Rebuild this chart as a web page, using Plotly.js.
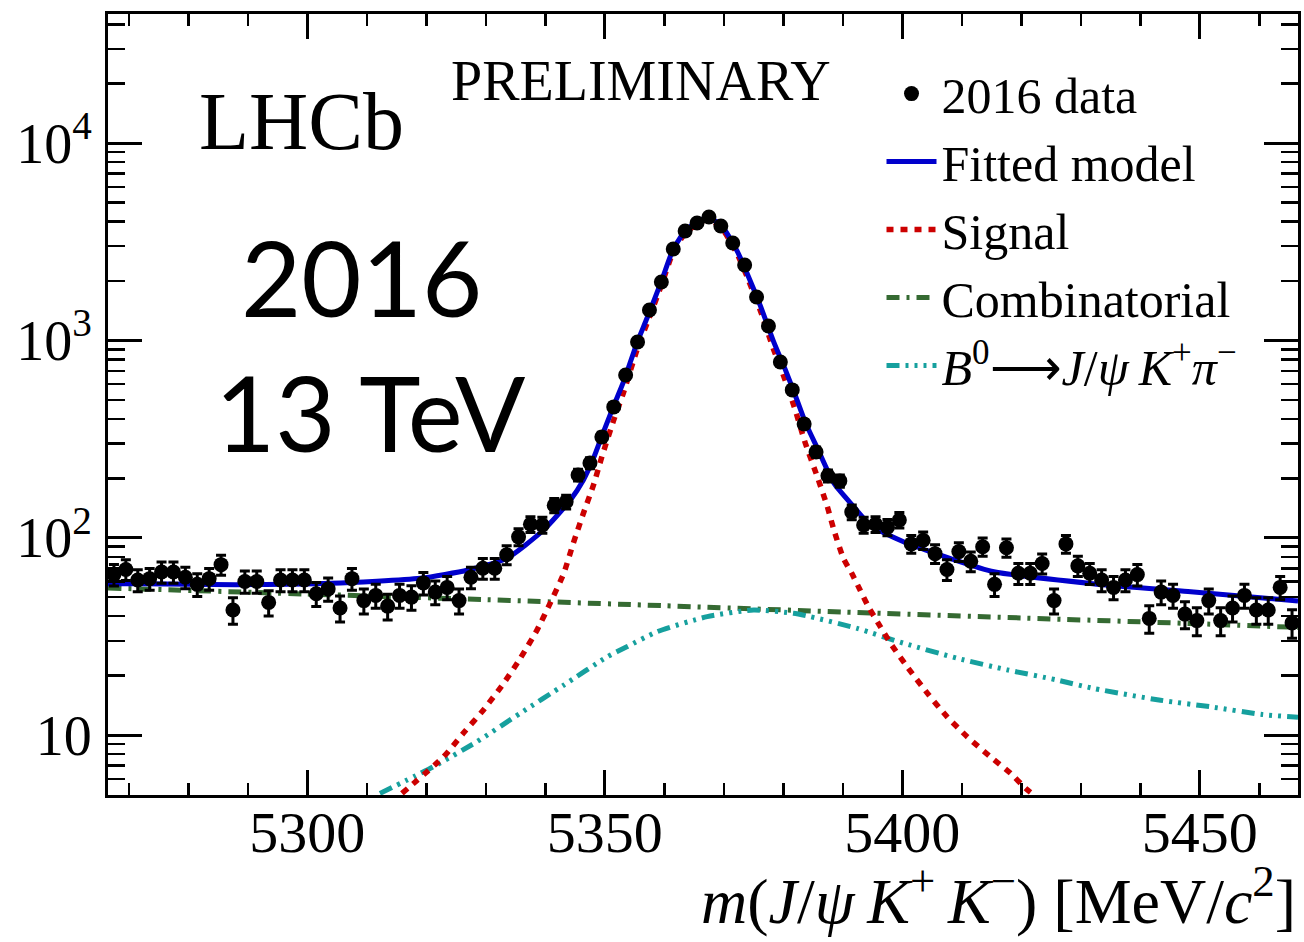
<!DOCTYPE html>
<html>
<head>
<meta charset="utf-8">
<script src="https://cdn.plot.ly/plotly-3.0.1.min.js"></script>
<style>html,body{margin:0;padding:0;background:#fff;}#chart{width:1304px;height:942px;}</style>
</head>
<body>
<div id="chart"></div>
<script>
// ---- data ----
const massBins = [5267.5,5269.5,5271.5,5273.5,5275.5,5277.5,5279.5,5281.5,5283.5,5285.5,
5287.5,5289.5,5291.5,5293.5,5295.5,5297.5,5299.5,5301.5,5303.5,5305.5,
5307.5,5309.5,5311.5,5313.5,5315.5,5317.5,5319.5,5321.5,5323.5,5325.5,
5327.5,5329.5,5331.5,5333.5,5335.5,5337.5,5339.5,5341.5,5343.5,5345.5,
5347.5,5349.5,5351.5,5353.5,5355.5,5357.5,5359.5,5361.5,5363.5,5365.5,
5367.5,5369.5,5371.5,5373.5,5375.5,5377.5,5379.5,5381.5,5383.5,5385.5,
5387.5,5389.5,5391.5,5393.5,5395.5,5397.5,5399.5,5401.5,5403.5,5405.5,
5407.5,5409.5,5411.5,5413.5,5415.5,5417.5,5419.5,5421.5,5423.5,5425.5,
5427.5,5429.5,5431.5,5433.5,5435.5,5437.5,5439.5,5441.5,5443.5,5445.5,
5447.5,5449.5,5451.5,5453.5,5455.5,5457.5,5459.5,5461.5,5463.5,5465.5];

const dataCounts = [65,69,61,62,67,67,63,58,62,73,
43,60,60,47,61,61,61,52,55,44,
62,48,51,45,51,50,59,53,56,48,
63,70,70,82,101,117,116,146,152,208,
239,324,460,668,981,1426,1977,2906,3584,3936,
4221,3800,3115,2411,1660,1183,777,561,377,272,
206,194,135,116,117,113,123,93,97,83,
69,85,76,90,58,89,66,66,74,48,
93,72,66,61,56,61,65,39,53,51,
41,38,48,38,44,51,43,43,56,37];

const dataErrors = [8.1,8.3,7.8,7.9,8.2,8.2,7.9,7.6,7.9,8.5,
6.6,7.7,7.7,6.9,7.8,7.8,7.8,7.2,7.4,6.6,
7.9,6.9,7.1,6.7,7.1,7.1,7.7,7.3,7.5,6.9,
7.9,8.4,8.4,9.1,10.0,10.8,10.8,12.1,12.3,14.4,
15.5,18.0,21.4,25.8,31.3,37.8,44.5,53.9,59.9,62.7,
65.0,61.6,55.8,49.1,40.7,34.4,27.9,23.7,19.4,16.5,
14.4,13.9,11.6,10.8,10.8,10.6,11.1,9.6,9.8,9.1,
8.3,9.2,8.7,9.5,7.6,9.4,8.1,8.1,8.6,6.9,
9.6,8.5,8.1,7.8,7.5,7.8,8.1,6.2,7.3,7.1,
6.4,6.2,6.9,6.2,6.6,7.1,6.6,6.6,7.5,6.1];

const fitMass = [5266.5,5272,5288,5304,5319,5327,5333.5,5339.7,5344.2,5346.4,5348.1,5349.5,5351.5,5353.1,5355.4,5357.1,5359.5,5361.5,5363.5,5365.5,5367.3,5369.5,5372.2,5373.9,5376.1,5378.4,5380.3,5382.0,5383.7,5385.7,5388.5,5391.8,5394.6,5400.2,5404.7,5408,5415.4,5432,5448,5466.5];
const fitVals = [58.5,58.5,57.8,58.7,62.3,68.6,78.6,109.4,155,196,253,327,467,612,969,1298,1990,2900,3580,3980,4190,3840,2850,2190,1510,980,715,527,384,285,189,144,116,95.4,84.9,78.6,67.2,58.5,53.3,47.8];

const sigMass = [5315.9,5322.9,5326.2,5329.6,5333.0,5335.8,5338.6,5340.8,5343.1,5344.7,5346.4,5348.1,5349.5,5351.5,5353.1,5355.4,5357.1,5359.5,5361.5,5363.5,5365.5,5367.3,5369.5,5372.2,5373.9,5376.1,5378.4,5380.3,5382.0,5383.7,5385.7,5387.4,5388.5,5390.1,5391.5,5392.9,5394.3,5396.3,5398.0,5400.8,5404.2,5407.5,5410.9,5414.8,5418.2,5420.7,5422];
const sigVals = [5.06,7.76,10.2,13.4,18.3,24.5,34.0,46.5,66.0,93.7,133,185,257,395,539,894,1221,1900,2810,3490,3890,4100,3750,2763,2103,1426,894,630,444,301,204,143.6,109.4,78.6,66,54.3,44.7,35.4,29.2,22.2,16.3,12.4,9.8,7.76,6.4,5.37,5.0];

const combMass = [5266.5,5300,5330,5360,5390,5420,5450,5466.5];
const combVals = [55.6,51.8,48.5,45.2,42.0,39.2,36.6,35.1];

const b0Mass = [5312.2,5319.0,5321.2,5328.5,5335.8,5343.1,5350.4,5353.7,5358.8,5367.2,5375.0,5381.7,5384.5,5392.4,5400.2,5409.2,5417.6,5426.0,5432.2,5443.4,5451.8,5460.5,5466.5];
const b0Vals = [5.06,6.39,6.91,9.25,12.9,17.9,24.9,28.0,33.4,39.8,43.0,41.4,39.8,34.7,29.2,24.5,21.4,19.0,17.2,15.0,13.9,12.7,12.3];

const legendNames = ['2016 data','Fitted model','Signal','Combinatorial',
  '<i>B</i><sup>0</sup>\u27f6<i>J</i>/<i>\u03c8</i>\u2009<i>K</i><sup>+</sup><i>\u03c0</i><sup>\u2212</sup>'];

const xTickVals = [5300,5350,5400,5450];
const xTickText = ['5300','5350','5400','5450'];
const yTickVals = [10,100,1000,10000];
const yTickText = ['10','10<sup>2</sup>','10<sup>3</sup>','10<sup>4</sup>'];
const yMinorVals = [6,7,8,9,20,30,40,50,60,70,80,90,200,300,400,500,600,700,800,900,2000,3000,4000,5000,6000,7000,8000,9000,20000,30000,40000];

// ---- traces ----
const serif = 'Liberation Serif, Times New Roman, serif';
const traces = [
  {x: combMass, y: combVals, mode:'lines', name: legendNames[3], legendrank: 4,
   line:{color:'#356a32', width:5, dash:'13px,7px,3px,7px', shape:'spline', smoothing:0.6}},
  {x: b0Mass, y: b0Vals, mode:'lines', name: legendNames[4], legendrank: 5,
   line:{color:'#16a09e', width:5, dash:'13px,6px,3px,6px,3px,6px,3px,6px', shape:'spline', smoothing:0.6}},
  {x: sigMass, y: sigVals, mode:'lines', name: legendNames[2], legendrank: 3,
   line:{color:'#cc0000', width:5.5, dash:'7px,7px', shape:'spline', smoothing:0.6}},
  {x: fitMass, y: fitVals, mode:'lines', name: legendNames[1], legendrank: 2,
   line:{color:'#0000cc', width:5, shape:'spline', smoothing:0.6}},
  {x: massBins, y: dataCounts, mode:'markers', name: legendNames[0], legendrank: 1,
   marker:{color:'#000', size:15},
   error_y:{type:'data', array: dataErrors, visible:true, color:'#000', thickness:3, width:5}}
];

const layout = {
  width:1304, height:942,
  margin:{l:108, r:6, t:14, b:147},
  paper_bgcolor:'#fff', plot_bgcolor:'#fff',
  font:{family: serif, color:'#000', size:54},
  showlegend:true,
  legend:{x:0.65, y:0.948, xanchor:'left', yanchor:'top', bgcolor:'rgba(0,0,0,0)',
          font:{family: serif, size:50}, itemwidth:50, tracegroupgap:0},
  xaxis:{range:[5266.5,5466.5], showgrid:false, zeroline:false,
         showline:true, linewidth:3, linecolor:'#000', mirror:'allticks',
         ticks:'inside', ticklen:25, tickwidth:3, tickcolor:'#000',
         tickvals: xTickVals, ticktext: xTickText,
         tickfont:{family: serif, size:58}, ticklabelstandoff:-16,
         minor:{dtick:10, ticks:'inside', ticklen:12, tickwidth:2.5, tickcolor:'#000', showgrid:false}},
  yaxis:{type:'log', range:[0.696,4.654], showgrid:false, zeroline:false,
         showline:true, linewidth:3, linecolor:'#000', mirror:'allticks',
         ticks:'inside', ticklen:34, tickwidth:3, tickcolor:'#000',
         tickvals: yTickVals, ticktext: yTickText,
         tickfont:{family: serif, size:56}, ticklabelstandoff:2,
         minor:{tickmode:'array', tickvals: yMinorVals, ticks:'inside', ticklen:17, tickwidth:2.5, tickcolor:'#000', showgrid:false}},
  annotations:[
    {xref:'paper', yref:'paper', x:1, y:-0.185, xanchor:'right', yanchor:'bottom', showarrow:false,
     text:'<i>m</i>(<i>J</i>/<i>\u03c8</i>\u2009<i>K</i><sup>+</sup>\u2009<i>K</i><sup>\u2212</sup>) [MeV/<i>c</i><sup>2</sup>]',
     font:{family: serif, size:64}},
    {xref:'paper', yref:'paper', x:0.163, y:0.862, xanchor:'center', yanchor:'middle', showarrow:false,
     text:'LHCb', font:{family: serif, size:82}},
    {xref:'paper', yref:'paper', x:0.448, y:0.914, xanchor:'center', yanchor:'middle', showarrow:false,
     text:'PRELIMINARY', font:{family: serif, size:56}},
    {xref:'paper', yref:'paper', x:0.2134, y:0.6645, xanchor:'center', yanchor:'middle', showarrow:false,
     text:'2016', font:{family:'Lato, Open Sans, sans-serif', size:104}},
    {xref:'paper', yref:'paper', x:0.2202, y:0.4904, xanchor:'center', yanchor:'middle', showarrow:false,
     text:'13 TeV', font:{family:'Lato, Open Sans, sans-serif', size:104}}
  ]
};

Plotly.newPlot('chart', traces, layout, {displayModeBar:false, staticPlot:true});
</script>
</body>
</html>
